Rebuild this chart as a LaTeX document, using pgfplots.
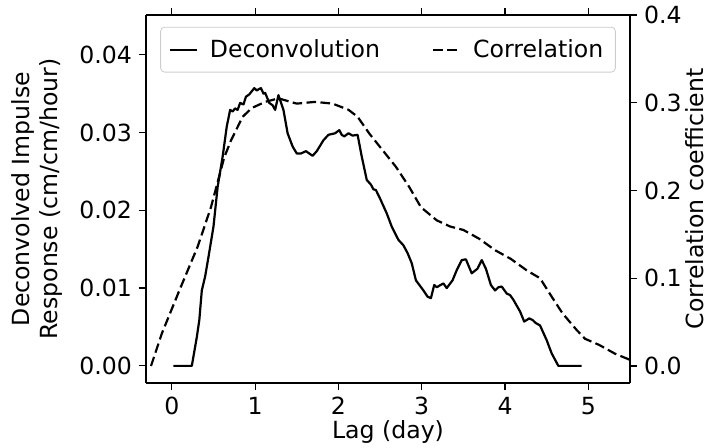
\documentclass[border=0pt]{standalone}
\usepackage{pgfplots}
\pgfplotsset{compat=1.18}
\usetikzlibrary{calc}
\usepackage{fontspec}
\setmainfont{DejaVu Sans}
\newcommand{\fs}{\fontsize{11.8}{14}\selectfont}
\begin{document}
\begin{tikzpicture}
\pgfplotsset{
  every axis/.append style={
    scale only axis, width=242pt, height=184pt,
    xmin=-0.31, xmax=5.5,
    tick align=outside, major tick length=3.5pt,
    tick style={black, line width=0.6pt},
    axis line style={line width=0.6pt},
    tick label style={font=\fs},
    label style={font=\fs},
    /pgf/number format/assume math mode=true,
  }
}
\begin{axis}[
  name=ax,
  axis y line*=left,
  axis x line*=box,
  ymin=-0.0022, ymax=0.0451,
  ytick={0,0.01,0.02,0.03,0.04},
  yticklabel style={/pgf/number format/.cd, fixed, fixed zerofill, precision=2},
  scaled y ticks=false,
  xtick={0,1,2,3,4,5},
  xlabel={Lag (day)},
  xlabel shift=-4pt,
  ylabel={Deconvolved Impulse\\Response (cm/cm/hour)},
  ylabel style={align=center},
  ylabel shift=1.5pt,
]
\addplot[black, line width=1.1pt, line join=round] coordinates {
(0.02,0) (0.24,0) (0.30,0.0037) (0.33,0.0059) (0.36,0.0097) (0.40,0.0115) (0.44,0.014)
(0.50,0.0179) (0.55,0.023) (0.61,0.0269) (0.66,0.0308) (0.70,0.0329) (0.73,0.0327) (0.76,0.0331)
(0.79,0.0329) (0.82,0.0338) (0.86,0.0336) (0.89,0.0346) (0.93,0.0349) (0.96,0.0353) (0.99,0.0357)
(1.02,0.0354) (1.05,0.0356) (1.07,0.0357) (1.10,0.0350) (1.12,0.0351) (1.17,0.0338) (1.21,0.0335) (1.24,0.0329)
(1.28,0.0348) (1.34,0.0329) (1.39,0.0299) (1.45,0.0282) (1.50,0.0273) (1.55,0.0273)
(1.61,0.0276) (1.69,0.027) (1.74,0.0276) (1.82,0.029) (1.88,0.0297) (1.96,0.0299) (2.01,0.0303)
(2.04,0.0297) (2.07,0.0295) (2.12,0.0299) (2.17,0.0296) (2.23,0.0297) (2.28,0.0269) (2.34,0.0239)
(2.39,0.0233) (2.42,0.0227) (2.45,0.0226) (2.50,0.0215) (2.58,0.0196) (2.64,0.0179) (2.72,0.0162)
(2.78,0.0155) (2.83,0.0145) (2.88,0.0132) (2.93,0.011) (3.02,0.0097) (3.07,0.0089) (3.11,0.0087)
(3.15,0.0104) (3.18,0.0101) (3.21,0.0103) (3.26,0.0106) (3.30,0.0100) (3.37,0.0110) (3.42,0.0123)
(3.48,0.0136) (3.53,0.0137) (3.60,0.0119) (3.67,0.0125) (3.72,0.0136) (3.77,0.0125)
(3.83,0.0104) (3.88,0.0097) (3.92,0.0101) (3.96,0.0102) (4.02,0.0093) (4.06,0.0091) (4.10,0.0085) (4.18,0.0070)
(4.23,0.0057) (4.29,0.0061) (4.33,0.0059) (4.37,0.0055) (4.42,0.0052) (4.50,0.0033) (4.56,0.0016)
(4.64,0) (4.92,0)
};
\end{axis}
\begin{axis}[
  axis y line*=right,
  axis x line=none,
  ymin=-0.0194, ymax=0.4,
  ytick={0,0.1,0.2,0.3,0.4},
  yticklabel style={/pgf/number format/.cd, fixed, fixed zerofill, precision=1},
  ylabel={Correlation coefficient},
  ylabel shift=-5pt,
  legend columns=2,
  legend style={at={(0.5,0.968)}, anchor=north, font=\fs, draw=black!20, rounded corners=2pt,
    /tikz/every even column/.append style={column sep=24pt},
    /tikz/every odd column/.append style={column sep=0pt},
    cells={anchor=west},
    inner xsep=4pt, inner ysep=4pt},
  legend image code/.code={\draw[#1] (0cm,0cm) -- (13.5pt,0cm);},
]
\addlegendimage{black, line width=1.1pt}
\addlegendentry{\hspace{4pt}Deconvolution}
\addplot[black, line width=1.1pt, dash pattern=on 4.8pt off 2.2pt] coordinates {
(-0.25,0) (-0.12,0.037) (0.09,0.086) (0.31,0.136) (0.47,0.181) (0.63,0.238) (0.71,0.257)
(0.85,0.284) (0.96,0.294) (1.12,0.301) (1.28,0.305) (1.50,0.299) (1.72,0.301) (1.93,0.299)
(2.12,0.292) (2.23,0.284) (2.37,0.265) (2.53,0.246) (2.69,0.227) (2.85,0.204) (2.99,0.181)
(3.18,0.166) (3.34,0.159) (3.50,0.155) (3.69,0.145) (3.88,0.132) (4.07,0.122) (4.26,0.109)
(4.42,0.100) (4.56,0.079) (4.69,0.060) (4.86,0.041) (4.96,0.031) (5.13,0.024) (5.32,0.014) (5.5,0.007)
};
\addlegendentry{\hspace{4pt}Correlation}
\end{axis}
\pgfresetboundingbox
\useasboundingbox ($(ax.south west)+(-73pt,-32pt)$) rectangle ($(ax.north east)+(38pt,7.5pt)$);
\end{tikzpicture}
\end{document}
